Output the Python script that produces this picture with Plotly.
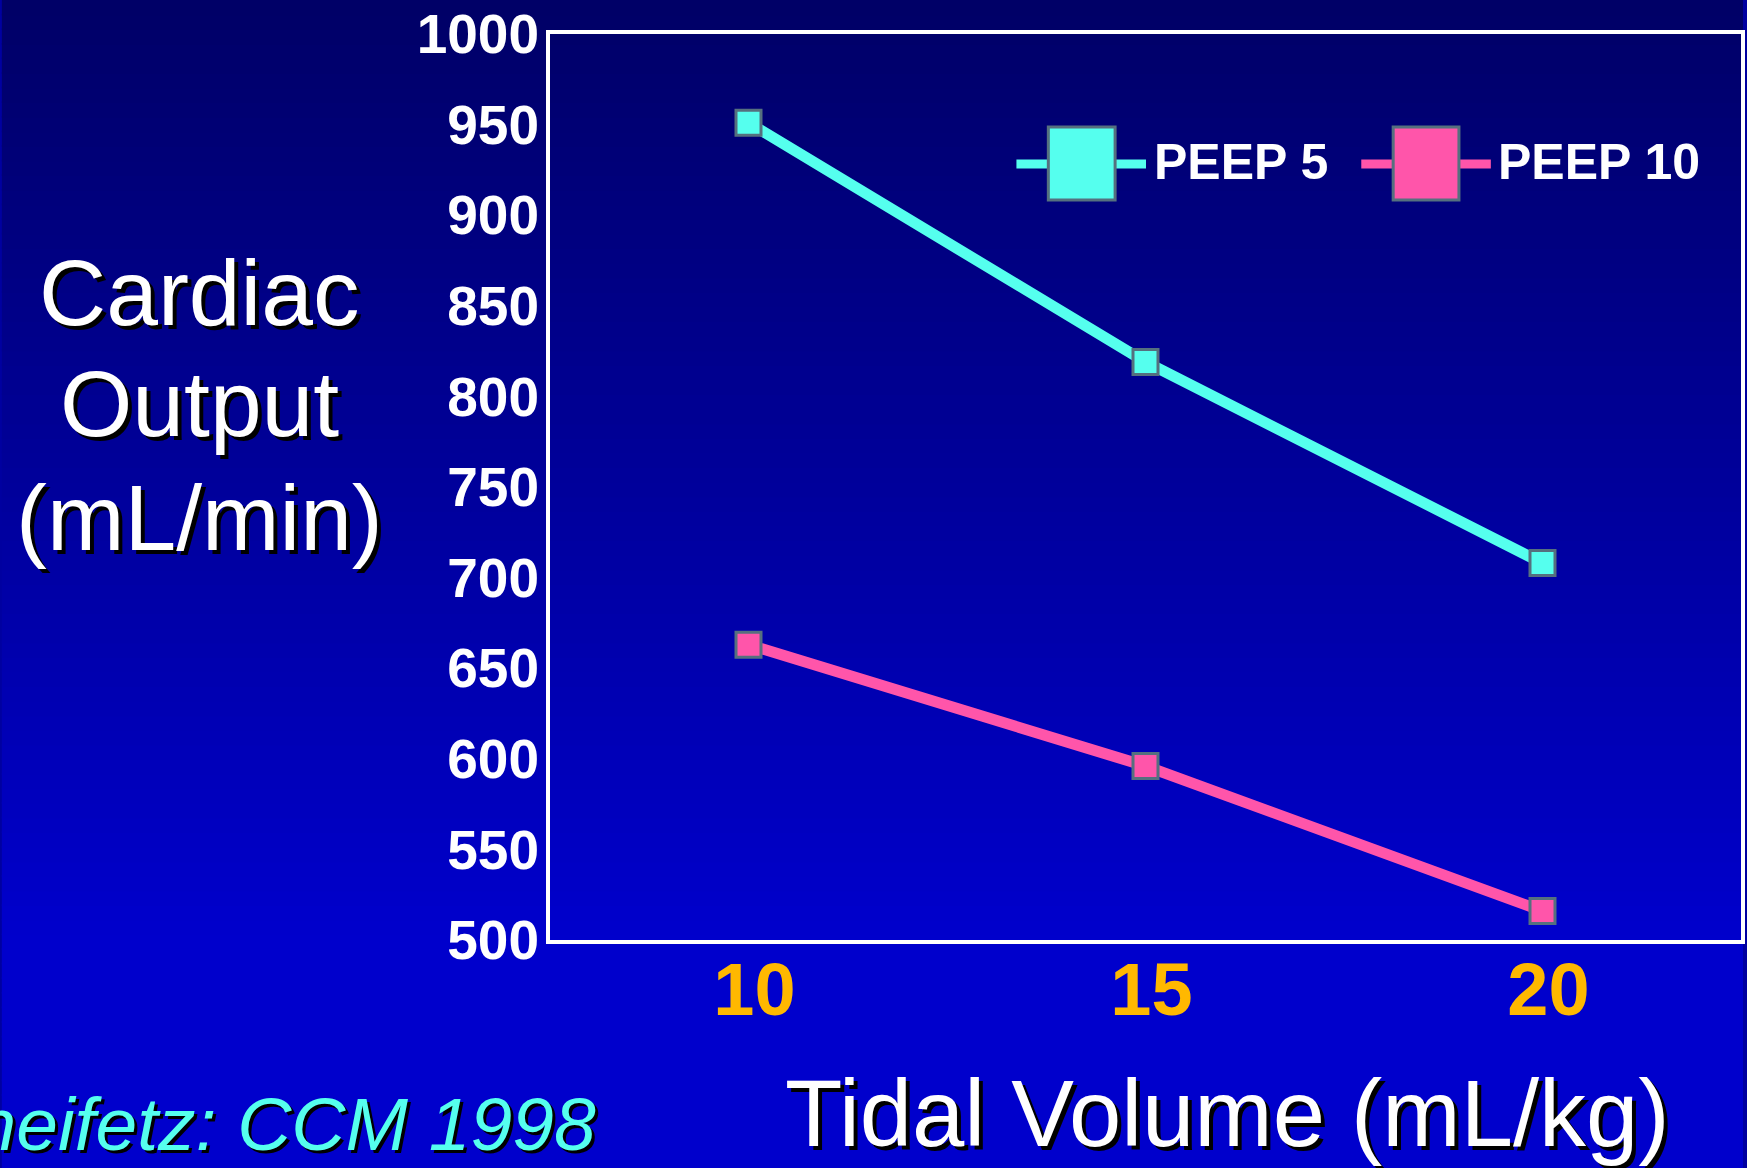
import plotly.graph_objects as go

# ---- data ----
tidal_volume = [10, 15, 20]
peep5 = [951, 819, 708]
peep10 = [663, 596, 516]
series_names = ["PEEP 5", "PEEP 10"]
y_ticks = [500, 550, 600, 650, 700, 750, 800, 850, 900, 950, 1000]
x_ticks = [10, 15, 20]

CYAN = "#55FFEE"
PINK = "#FF55AA"
EDGE = "#55707F"
ORANGE = "#FFB800"
FONT = "Liberation Sans, Arial, sans-serif"

W, H = 1747, 1168
L, R, T, B = 550, 1745, 34, 940


def px(x):
    return (x - L) / (R - L)


def py(y):
    return (B - y) / (B - T)


fig = go.Figure()
fig.add_trace(go.Scatter(x=tidal_volume, y=peep5, mode="lines+markers", name=series_names[0],
                         line=dict(color=CYAN, width=11),
                         marker=dict(symbol="square", size=25, color=CYAN, line=dict(color=EDGE, width=3)),
                         showlegend=False, cliponaxis=False))
fig.add_trace(go.Scatter(x=tidal_volume, y=peep10, mode="lines+markers", name=series_names[1],
                         line=dict(color=PINK, width=11),
                         marker=dict(symbol="square", size=25, color=PINK, line=dict(color=EDGE, width=3)),
                         showlegend=False, cliponaxis=False))

shapes = []
# background gradient
n = 80
for i in range(n):
    y0 = i / n
    y1 = (i + 1) / n
    t = (1 - (y0 + y1) / 2)  # 0 at top, 1 at bottom
    f = min(t / 0.8, 1.0)
    b = int(round(102 + f * 102))
    shapes.append(dict(type="rect", xref="paper", yref="paper",
                       x0=px(0), x1=px(W), y0=py(H) + (py(0) - py(H)) * y0 - 0.001,
                       y1=py(H) + (py(0) - py(H)) * y1 + 0.001,
                       fillcolor=f"rgb(0,0,{b})", line=dict(width=0), layer="below"))

# legend (manual, large symbols)
legend_items = [(1018, 1148, 1050, 1117, 1154, CYAN, series_names[0]),
                (1364, 1494, 1396, 1462, 1499, PINK, series_names[1])]
annotations = []
for lx0, lx1, rx0, rx1, tx, col, name in legend_items:
    shapes.append(dict(type="line", xref="paper", yref="paper", x0=px(lx0), x1=px(lx1),
                       y0=py(164), y1=py(164), line=dict(color=col, width=9)))
    shapes.append(dict(type="rect", xref="paper", yref="paper", x0=px(rx0), x1=px(rx1),
                       y0=py(200), y1=py(127), fillcolor=col, line=dict(color=EDGE, width=3)))
    annotations.append(dict(xref="paper", yref="paper", x=px(tx), y=py(162), xanchor="left",
                            yanchor="middle", text=f"<b>{name}</b>", showarrow=False,
                            font=dict(family=FONT, size=50, color="white")))

shadow = "4px 4px 0px black"
for txt, base in [("Cardiac", 327), ("Output", 438), ("(mL/min)", 552)]:
    annotations.append(dict(xref="paper", yref="paper", x=px(198), y=py(base + 20), xanchor="center",
                            yanchor="bottom", text=txt, showarrow=False,
                            font=dict(family=FONT, size=93, color="white", shadow=shadow)))

annotations.append(dict(xref="paper", yref="paper", x=px(1230), y=py(1168), xanchor="center",
                        yanchor="bottom", text="Tidal Volume (mL/kg)", showarrow=False,
                        font=dict(family=FONT, size=94, color="white", shadow=shadow)))
annotations.append(dict(xref="paper", yref="paper", x=px(598), y=py(1168), xanchor="right",
                        yanchor="bottom", text="<i>Scheifetz: CCM 1998</i>", showarrow=False,
                        font=dict(family=FONT, size=75, color=CYAN, shadow="3px 3px 0px black")))

fig.update_layout(
    width=W, height=H,
    margin=dict(l=L, r=W - R, t=T, b=H - B, pad=0),
    paper_bgcolor="#0000A0",
    plot_bgcolor="rgba(0,0,0,0)",
    shapes=shapes,
    annotations=annotations,
    showlegend=False,
)
fig.update_xaxes(range=[7.5, 22.5], tickvals=x_ticks, ticktext=[f"<b>{v}</b>" for v in x_ticks],
                 tickfont=dict(family=FONT, size=74, color=ORANGE),
                 showgrid=False, zeroline=False, showline=True, mirror=True,
                 linecolor="white", linewidth=4, ticks="", ticklabelstandoff=-18,
                 ticklabelshift=6)
fig.update_yaxes(range=[500, 1000], tickvals=y_ticks, ticktext=[f"<b>{v}</b>" for v in y_ticks],
                 tickfont=dict(family=FONT, size=55, color="white"),
                 showgrid=False, zeroline=False, showline=True, mirror=True,
                 linecolor="white", linewidth=4, ticks="", ticklabelstandoff=-4)

fig.write_html("out.html")
